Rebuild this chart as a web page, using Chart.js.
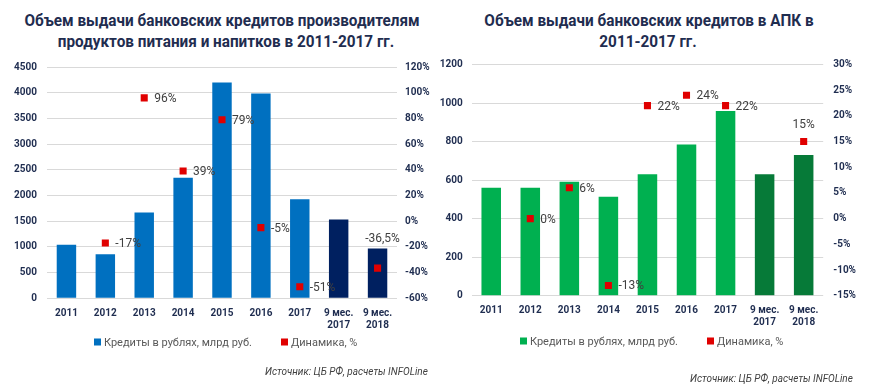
<!DOCTYPE html>
<html><head><meta charset="utf-8">
<script src="https://cdn.jsdelivr.net/npm/chart.js@4.4.0/dist/chart.umd.min.js"></script>
<style>
body{margin:0;background:#fff;width:872px;height:387px;overflow:hidden;position:relative;font-family:Roboto,sans-serif}
.c{position:absolute;top:0;width:436px;height:387px}
.t{position:absolute;font-weight:bold;color:#1F2D50;font-size:17px;white-space:nowrap;transform:translate(-50%,-50%) scaleX(0.9);line-height:20px}
.src{position:absolute;font-style:italic;font-size:10px;color:#404040;white-space:nowrap;transform:translateY(-50%)}
.lg{position:absolute;font-size:11px;color:#595959;white-space:nowrap;transform:translateY(-50%);display:flex;align-items:center}
.lg i{display:inline-block;width:7px;height:7px;margin-right:3px}
</style></head><body>
<div class="t" style="left:222px;top:20px">Объем выдачи банковских кредитов производителям</div>
<div class="t" style="left:226px;top:41px">продуктов питания и напитков в 2011-2017 гг.</div>
<div class="t" style="left:649px;top:20px">Объем выдачи банковских кредитов в АПК в</div>
<div class="t" style="left:648px;top:41px">2011-2017 гг.</div>
<div class="c" style="left:0"><canvas id="c1" width="436" height="387"></canvas></div>
<div class="c" style="left:436px"><canvas id="c2" width="436" height="387"></canvas></div>
<div class="lg" style="left:94px;top:342px"><i style="background:#0070C0"></i>Кредиты в рублях, млрд руб.</div>
<div class="lg" style="left:281px;top:342px"><i style="background:#E00000"></i>Динамика, %</div>
<div class="lg" style="left:520px;top:341px"><i style="background:#00B050"></i>Кредиты в рублях, млрд руб.</div>
<div class="lg" style="left:707px;top:341px"><i style="background:#E00000"></i>Динамика, %</div>
<div class="src" style="left:265px;top:371px">Источник: ЦБ РФ, расчеты INFOLine</div>
<div class="src" style="left:690px;top:378px">Источник: ЦБ РФ, расчеты INFOLine</div>
<script>
const categories = ['2011','2012','2013','2014','2015','2016','2017',['9 мес.','2017'],['9 мес.','2018']];
const foodCredits = [1040, 855, 1670, 2345, 4200, 3985, 1925, 1535, 970];
const foodDynamics = [null, -17, 96, 39, 79, -5, -51, null, -36.5];
const agroCredits = [560, 560, 591, 513, 631, 785, 959, 631, 730];
const agroDynamics = [null, 0, 6, -13, 22, 24, 22, null, 15];
const foodLeftAxis = [0, 4500, 500];
const foodRightAxis = [-60, 120, 20];
const agroLeftAxis = [0, 1200, 200];
const agroRightAxis = [-15, 30, 5];

const TICK = '#1F2D50';
const labelPlugin = {
  id: 'ptLabels',
  afterDatasetsDraw(chart, args, opts) {
    const meta = chart.getDatasetMeta(1);
    const ds = chart.data.datasets[1];
    const ctx = chart.ctx;
    ctx.save();
    ctx.font = '12px Roboto';
    ctx.fillStyle = '#404040';
    meta.data.forEach((pt, i) => {
      const v = ds.data[i];
      if (v == null) return;
      const txt = String(v).replace('.', ',') + '%';
      if (opts.above && opts.above.index === i) {
        ctx.textAlign = 'center'; ctx.textBaseline = 'middle';
        ctx.fillText(txt, pt.x + opts.above.dx, pt.y - opts.above.dy);
      } else {
        ctx.textAlign = 'left'; ctx.textBaseline = 'middle';
        ctx.fillText(txt, pt.x + 10, pt.y + 1);
      }
    });
    ctx.restore();
  }
};

function makeChart(id, credits, dyn, light, dark, la, ra, geo) {
  const colors = credits.map((v, i) => i >= 7 ? dark : light);
  const tf = { family: 'Roboto', size: 10, weight: 'bold' };
  return new Chart(document.getElementById(id), {
    type: 'bar',
    data: {
      labels: categories,
      datasets: [
        { type: 'bar', data: credits, backgroundColor: colors, barPercentage: 0.5, categoryPercentage: 1, yAxisID: 'y', order: 1 },
        { type: 'line', data: dyn, showLine: false, pointStyle: 'rect', pointRadius: 5, pointHoverRadius: 5,
          backgroundColor: '#E00000', borderColor: '#E00000', borderWidth: 0, yAxisID: 'y1', order: 0 }
      ]
    },
    options: {
      responsive: false, animation: false,
      layout: { padding: { top: geo.top, bottom: geo.bottom, left: 0, right: 0 } },
      plugins: { legend: { display: false }, tooltip: { enabled: false }, title: { display: false },
        ptLabels: { above: geo.above } },
      scales: {
        x: { grid: { display: false }, border: { display: false },
             ticks: { font: tf, color: TICK, padding: 1, maxRotation: 0, autoSkip: false },
             afterFit(s) { s.height = 36; } },
        y: { position: 'left', min: la[0], max: la[1],
             ticks: { stepSize: la[2], font: tf, color: TICK, padding: geo.lpad, callback: v => String(v) },
             grid: { color: '#D9D9D9', drawTicks: false }, border: { display: false },
             afterFit(s) { s.width = geo.lw; } },
        y1: { position: 'right', min: ra[0], max: ra[1],
             ticks: { stepSize: ra[2], font: tf, color: TICK, padding: geo.rpad, callback: v => v + '%' },
             grid: { display: false, drawTicks: false }, border: { display: false },
             afterFit(s) { s.width = geo.rw; } }
      }
    },
    plugins: [labelPlugin]
  });
}

makeChart('c1', foodCredits, foodDynamics, '#0070C0', '#002060', foodLeftAxis, foodRightAxis,
  { top: 67, bottom: 52.7, lw: 47, rw: 39, lpad: 10, rpad: 8, above: { index: 8, dx: 5, dy: 29 } });
makeChart('c2', agroCredits, agroDynamics, '#00B050', '#067A38', agroLeftAxis, agroRightAxis,
  { top: 64.5, bottom: 55.3, lw: 35.7, rw: 48.8, lpad: 9, rpad: 10, above: { index: 8, dx: 0, dy: 17 } });
</script>
</body></html>
